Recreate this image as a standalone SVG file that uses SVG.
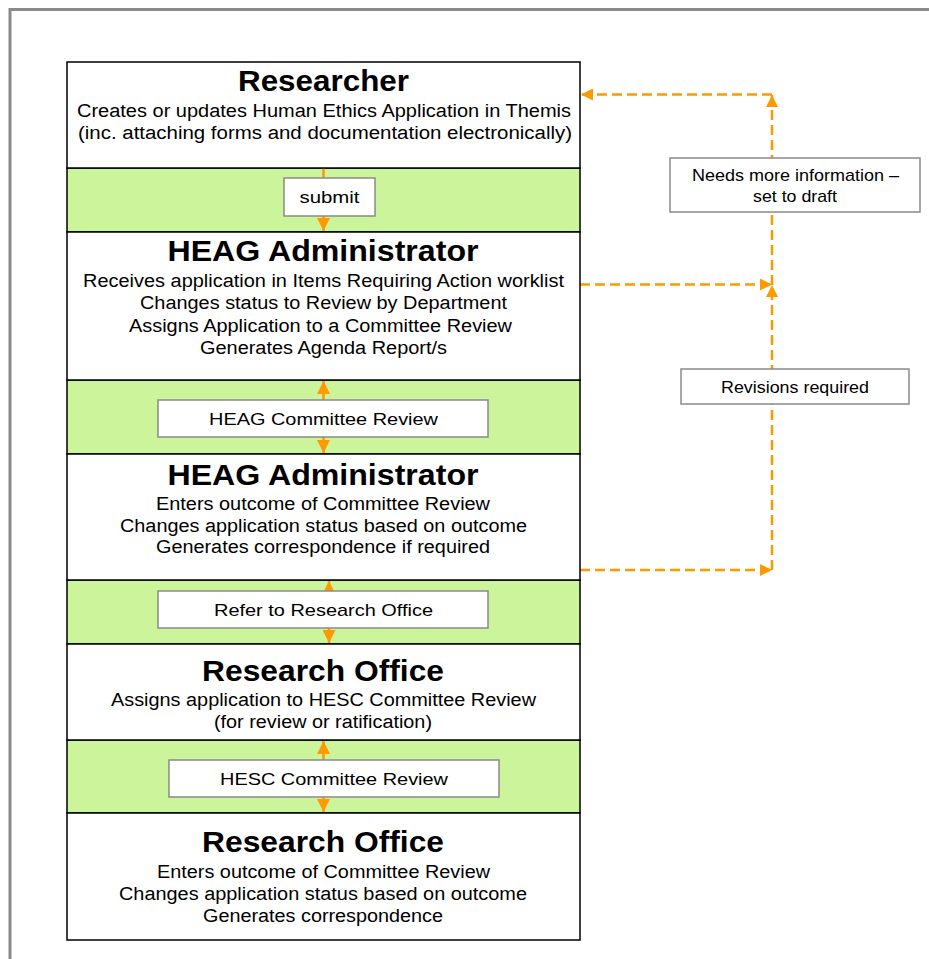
<svg xmlns="http://www.w3.org/2000/svg" width="929" height="959" viewBox="0 0 929 959">
<style>
.box{fill:#fff;stroke:#000;stroke-width:1.5}
.band{fill:#ccf59b;stroke:#000;stroke-width:1.5}
.lbl{fill:#fff;stroke:#8a8a8a;stroke-width:1.5}
.t{font-family:"Liberation Sans",Arial,sans-serif;font-size:29px;font-weight:bold;fill:#000;text-anchor:middle}
.b{font-family:"Liberation Sans",Arial,sans-serif;font-size:18px;fill:#000;text-anchor:middle}
.l{font-family:"Liberation Sans",Arial,sans-serif;font-size:17px;fill:#000;text-anchor:middle}
.flow{fill:none;stroke:#f90;stroke-width:2.5}
.dash{fill:none;stroke:#f90;stroke-width:2.5;stroke-dasharray:10 5}
</style>
<defs>
<marker id="ah" viewBox="0 0 10 10" refX="10" refY="5" markerWidth="13" markerHeight="13" markerUnits="userSpaceOnUse" orient="auto-start-reverse">
<path d="M0,0 L10,5 L0,10 z" fill="#f90"/>
</marker>
<marker id="ah2" viewBox="0 0 10 10" refX="10" refY="5" markerWidth="12" markerHeight="12" markerUnits="userSpaceOnUse" orient="auto-start-reverse">
<path d="M0,0 L10,5 L0,10 z" fill="#f90"/>
</marker>
</defs>

<path d="M10,959 V9.5 H929" fill="none" stroke="#8a8a8a" stroke-width="3"/>

<g id="bands">
<rect class="band" x="67" y="168" width="513" height="64"/>
<rect class="band" x="67" y="380" width="513" height="74"/>
<rect class="band" x="67" y="580" width="513" height="64"/>
<rect class="band" x="67" y="740" width="513" height="73"/>
</g>

<g id="connectors">
<path class="flow" d="M323.5,168 V231" marker-end="url(#ah)"/>
<path class="flow" d="M323.5,381 V453" marker-start="url(#ah)" marker-end="url(#ah)"/>
<path class="flow" d="M329,581 V643" marker-start="url(#ah)" marker-end="url(#ah)"/>
<path class="flow" d="M323.5,741 V812" marker-start="url(#ah)" marker-end="url(#ah)"/>
<path class="dash" d="M772,285 V95" marker-end="url(#ah2)"/>
<path class="dash" d="M772,94.5 H581" marker-end="url(#ah2)"/>
<path class="dash" d="M580,284.5 H772" marker-end="url(#ah2)"/>
<path class="dash" d="M772,570 V285" marker-end="url(#ah2)"/>
<path class="dash" d="M580,570 H772" marker-end="url(#ah2)"/>
</g>

<g id="researcher">
<rect class="box" x="67" y="62" width="513" height="106"/>
<text class="t" x="323.5" y="91" textLength="171" lengthAdjust="spacingAndGlyphs">Researcher</text>
<text class="b" x="324" y="117" textLength="494" lengthAdjust="spacingAndGlyphs">Creates or updates Human Ethics Application in Themis</text>
<text class="b" x="325" y="139" textLength="494" lengthAdjust="spacingAndGlyphs">(inc. attaching forms and documentation electronically)</text>
</g>

<g id="heag-admin-1">
<rect class="box" x="67" y="232" width="513" height="148"/>
<text class="t" x="323" y="261" textLength="311" lengthAdjust="spacingAndGlyphs">HEAG Administrator</text>
<text class="b" x="323.5" y="287" textLength="481" lengthAdjust="spacingAndGlyphs">Receives application in Items Requiring Action worklist</text>
<text class="b" x="323.5" y="309" textLength="367" lengthAdjust="spacingAndGlyphs">Changes status to Review by Department</text>
<text class="b" x="320.5" y="332" textLength="383" lengthAdjust="spacingAndGlyphs">Assigns Application to a Committee Review</text>
<text class="b" x="323.5" y="354" textLength="247" lengthAdjust="spacingAndGlyphs">Generates Agenda Report/s</text>
</g>

<g id="heag-admin-2">
<rect class="box" x="67" y="454" width="513" height="126"/>
<text class="t" x="323" y="485" textLength="311" lengthAdjust="spacingAndGlyphs">HEAG Administrator</text>
<text class="b" x="323" y="510" textLength="334" lengthAdjust="spacingAndGlyphs">Enters outcome of Committee Review</text>
<text class="b" x="323.5" y="532" textLength="407" lengthAdjust="spacingAndGlyphs">Changes application status based on outcome</text>
<text class="b" x="323" y="553" textLength="334" lengthAdjust="spacingAndGlyphs">Generates correspondence if required</text>
</g>

<g id="research-office-1">
<rect class="box" x="67" y="644" width="513" height="96"/>
<text class="t" x="323" y="681" textLength="242" lengthAdjust="spacingAndGlyphs">Research Office</text>
<text class="b" x="323.5" y="706" textLength="425" lengthAdjust="spacingAndGlyphs">Assigns application to HESC Committee Review</text>
<text class="b" x="323" y="728" textLength="218" lengthAdjust="spacingAndGlyphs">(for review or ratification)</text>
</g>

<g id="research-office-2">
<rect class="box" x="67" y="813" width="513" height="127"/>
<text class="t" x="323" y="852" textLength="242" lengthAdjust="spacingAndGlyphs">Research Office</text>
<text class="b" x="323.5" y="878" textLength="333" lengthAdjust="spacingAndGlyphs">Enters outcome of Committee Review</text>
<text class="b" x="323" y="900" textLength="408" lengthAdjust="spacingAndGlyphs">Changes application status based on outcome</text>
<text class="b" x="323" y="922" textLength="240" lengthAdjust="spacingAndGlyphs">Generates correspondence</text>
</g>

<g id="label-submit">
<rect class="lbl" x="284" y="178" width="91" height="38"/>
<text class="l" x="329.5" y="203" textLength="60" lengthAdjust="spacingAndGlyphs">submit</text>
</g>
<g id="label-heag-review">
<rect class="lbl" x="158" y="400" width="330" height="37"/>
<text class="l" x="323.5" y="425" textLength="229" lengthAdjust="spacingAndGlyphs">HEAG Committee Review</text>
</g>
<g id="label-refer">
<rect class="lbl" x="158" y="591" width="330" height="37"/>
<text class="l" x="323.5" y="616" textLength="219" lengthAdjust="spacingAndGlyphs">Refer to Research Office</text>
</g>
<g id="label-hesc-review">
<rect class="lbl" x="169" y="760" width="330" height="37"/>
<text class="l" x="334" y="785" textLength="228" lengthAdjust="spacingAndGlyphs">HESC Committee Review</text>
</g>
<g id="label-needs-info">
<rect class="lbl" x="670" y="158" width="250" height="54"/>
<text class="l" x="795.5" y="181" textLength="207" lengthAdjust="spacingAndGlyphs">Needs more information –</text>
<text class="l" x="795" y="202" textLength="84" lengthAdjust="spacingAndGlyphs">set to draft</text>
</g>
<g id="label-revisions">
<rect class="lbl" x="681" y="369" width="228" height="35"/>
<text class="l" x="795" y="393" textLength="148" lengthAdjust="spacingAndGlyphs">Revisions required</text>
</g>
</svg>
